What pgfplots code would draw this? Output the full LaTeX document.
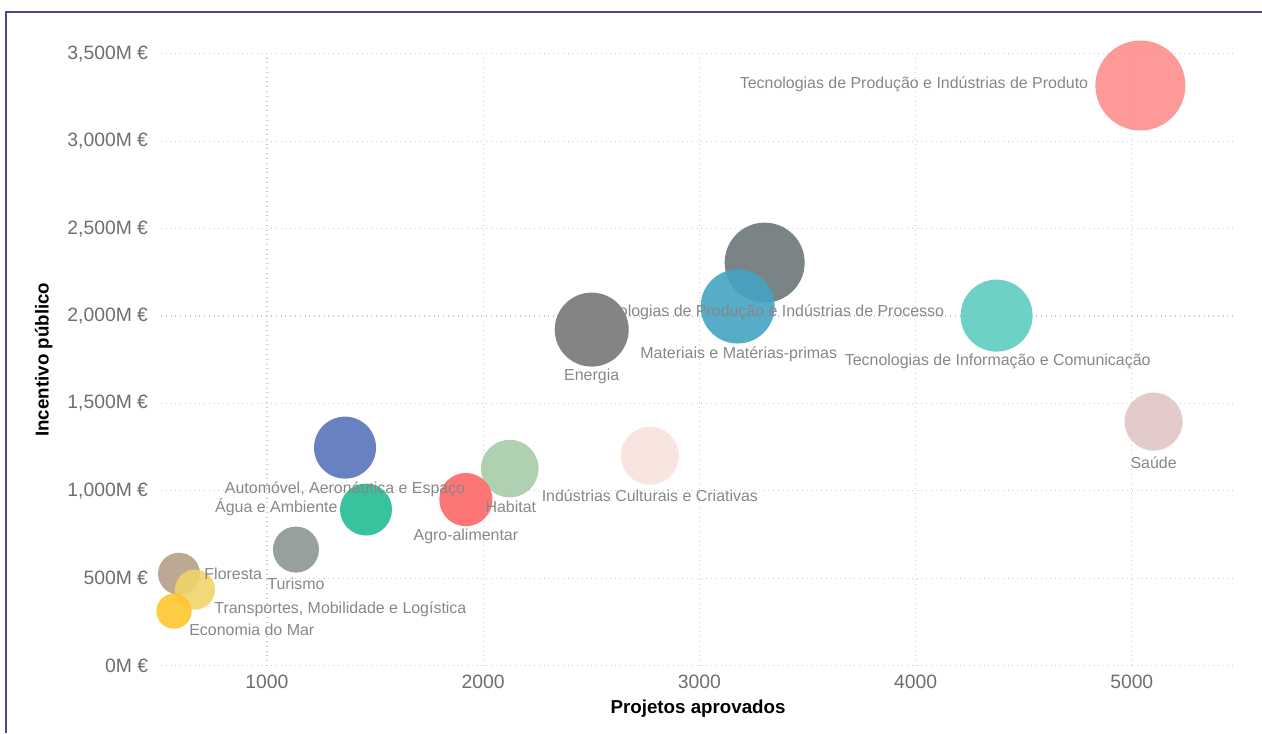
\documentclass[border=0pt]{standalone}
\usepackage{pgfplots}
\pgfplotsset{compat=1.18}
\usepackage{fontspec}
\setmainfont{Liberation Sans}

\definecolor{frameblue}{RGB}{72,72,142}
\definecolor{ticktext}{RGB}{110,110,110}
\definecolor{labeltext}{RGB}{135,135,135}
\definecolor{gridgray}{RGB}{200,200,200}

% bubble colours (as they show on white)
\definecolor{cProduto}{HTML}{FD8F8D}
\definecolor{cProcesso}{HTML}{6B7678}
\definecolor{cMateriais}{HTML}{45A3C2}
\definecolor{cEnergia}{HTML}{777777}
\definecolor{cTIC}{HTML}{5ECCC0}
\definecolor{cSaude}{HTML}{E1C5C5}
\definecolor{cCulturais}{HTML}{F8E2DB}
\definecolor{cHabitat}{HTML}{A6CCA8}
\definecolor{cAgro}{HTML}{FD6767}
\definecolor{cAuto}{HTML}{5873B9}
\definecolor{cAgua}{HTML}{22BB93}
\definecolor{cTurismo}{HTML}{8C9595}
\definecolor{cFloresta}{HTML}{B59E87}
\definecolor{cTransp}{HTML}{F2D46A}
\definecolor{cMar}{HTML}{FDC62B}

% filled disc with no outline
\pgfdeclareplotmark{disc}{\pgfpathcircle{\pgfpointorigin}{\pgfplotmarksize}\pgfusepathqfill}

\pgfplotsset{
  bub/.style={only marks, mark=disc, color=#1, fill opacity=0.9},
  lbl/.style={draw=none, mark=none, nodes near coords, point meta=explicit symbolic,
    nodes near coords align={center},
    every node near coord/.append style={anchor=#1, font=\fontsize{8}{9}\selectfont, text=labeltext, inner sep=0pt}}}

\begin{document}
\begin{tikzpicture}[x=1bp,y=1bp]
\path[use as bounding box] (0,0) rectangle (631,366.5);
\draw[frameblue, line width=1bp] (3,0) -- (3,360.5) -- (631,360.5);

\begin{axis}[
    at={(74.5,38.5)}, anchor=south west,
    scale only axis, width=537bp, height=306bp,
    xmin=510, xmax=5478, ymin=0, ymax=3500,
    clip=false,
    axis line style={draw=none},
    major tick length=0pt,
    grid=major,
    major grid style={gridgray, dotted, line width=0.6bp},
    xtick={1000,2000,3000,4000,5000},
    xticklabels={1000,2000,3000,4000,5000},
    ytick={0,500,1000,1500,2000,2500,3000,3500},
    yticklabels={0M €,500M €,{1,000M €},{1,500M €},{2,000M €},{2,500M €},{3,000M €},{3,500M €}},
    tick label style={font=\fontsize{9.7}{11}\selectfont, text=ticktext},
    yticklabel style={xshift=-3bp},
    xticklabel style={yshift=-1bp},
    xlabel={Projetos aprovados},
    ylabel={Incentivo público},
    label style={font=\fontsize{9.4}{11}\selectfont\bfseries, text=black},
    xlabel style={at={(axis description cs:0.5,-0.0703)}, anchor=center},
    ylabel style={at={(axis description cs:-0.1093,0.5)}, anchor=center},
]
% Tecnologias de Produção e Indústrias de Produto
\addplot[mark size=22.5bp, bub=cProduto] coordinates {(5040,3318)};
% Tecnologias de Produção e Indústrias de Processo
\addplot[mark size=20bp, bub=cProcesso] coordinates {(3302,2305)};
% Materiais e Matérias-primas
\addplot[mark size=18.5bp, bub=cMateriais] coordinates {(3177,2054)};
% Tecnologias de Informação e Comunicação
\addplot[mark size=18bp, bub=cTIC] coordinates {(4375,2002)};
% Energia
\addplot[mark size=18.5bp, bub=cEnergia] coordinates {(2502,1922)};
% Saúde
\addplot[mark size=14.5bp, bub=cSaude] coordinates {(5101,1396)};
% Indústrias Culturais e Criativas
\addplot[mark size=14.5bp, bub=cCulturais] coordinates {(2771,1201)};
% Habitat
\addplot[mark size=14.4bp, bub=cHabitat] coordinates {(2123,1127)};
% Agro-alimentar
\addplot[mark size=13.3bp, bub=cAgro] coordinates {(1920,950)};
% Automóvel, Aeronáutica e Espaço
\addplot[mark size=15.5bp, bub=cAuto] coordinates {(1361,1247)};
% Água e Ambiente
\addplot[mark size=13bp, bub=cAgua] coordinates {(1458,893)};
% Turismo
\addplot[mark size=11.5bp, bub=cTurismo] coordinates {(1134,664)};
% Floresta
\addplot[mark size=10.5bp, bub=cFloresta] coordinates {(593,526)};
% Transportes, Mobilidade e Logística
\addplot[mark size=10bp, bub=cTransp] coordinates {(667,435)};
% Economia do Mar
\addplot[mark size=8.8bp, bub=cMar] coordinates {(570,312)};

% data labels, drawn after the bubbles
\addplot[lbl=center] coordinates {
    (3302,2019) [Tecnologias de Produção e Indústrias de Processo]
    (3182,1779) [Materiais e Matérias-primas]
    (2502,1653) [Energia]
    (4380,1739) [Tecnologias de Informação e Comunicação]
    (5101,1161) [Saúde]
    (2771,973)  [Indústrias Culturais e Criativas]
    (2128,910)  [Habitat]
    (1920,738)  [Agro-alimentar]
    (1361,1007) [Automóvel, Aeronáutica e Espaço]
    (1134,469)  [Turismo]
};
\addplot[lbl=east] coordinates {
    (4800,3324) [Tecnologias de Produção e Indústrias de Produto]
    (1328,904)  [Água e Ambiente]
};
\addplot[lbl=west] coordinates {
    (709,526) [Floresta]
    (755,320) [Transportes, Mobilidade e Logística]
    (639,206) [Economia do Mar]
};
\end{axis}
\end{tikzpicture}
\end{document}
